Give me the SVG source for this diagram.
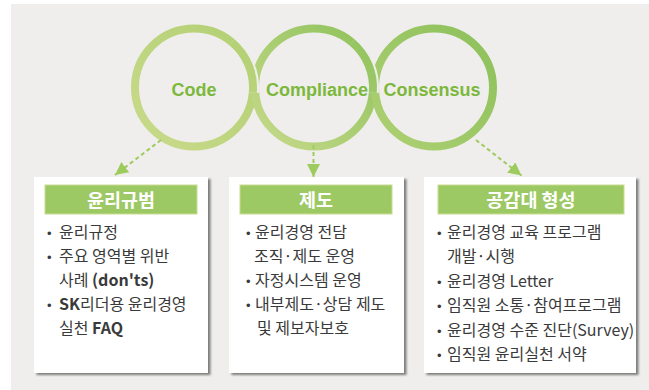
<svg xmlns="http://www.w3.org/2000/svg" width="649" height="390" viewBox="0 0 649 390">
<style>
.bg{fill:#efeeec}
.ring{fill:none;stroke-width:8}
.gap{fill:none;stroke:#efeeec;stroke-width:12}
.ctext{font-family:"Liberation Sans",Arial,sans-serif;font-weight:bold;font-size:18px;fill:#7cb83c;text-anchor:middle}
.box{fill:#ffffff;filter:url(#sh)}
.head{fill:#9dc965;stroke:#c9dc90;stroke-width:1}
.htext{font-family:"Noto Sans CJK KR","Noto Sans",sans-serif;font-weight:bold;font-size:18.5px;fill:#ffffff;text-anchor:middle}
.t{font-family:"Noto Sans CJK KR","Noto Sans",sans-serif;font-size:16px;fill:#3a3a3a}
.b{font-family:"Liberation Sans",Arial,sans-serif;font-size:13px;fill:#3a3a3a}
.bold{font-weight:bold}
.arrow{fill:none;stroke:#9dcb5e;stroke-width:2;stroke-dasharray:4 3}
</style>
<defs>
<linearGradient id="gCode" gradientUnits="userSpaceOnUse" x1="135" y1="145" x2="250" y2="30">
<stop offset="0" stop-color="#c9da8b"/><stop offset="1" stop-color="#b2d073"/>
</linearGradient>
<linearGradient id="gComp" gradientUnits="userSpaceOnUse" x1="258" y1="145" x2="372" y2="30">
<stop offset="0" stop-color="#c6d98a"/><stop offset="1" stop-color="#8ec25b"/>
</linearGradient>
<linearGradient id="gCons" gradientUnits="userSpaceOnUse" x1="378" y1="145" x2="495" y2="30">
<stop offset="0" stop-color="#add073"/><stop offset="1" stop-color="#8cc05a"/>
</linearGradient>
<marker id="ah" markerUnits="userSpaceOnUse" markerWidth="14" markerHeight="13" refX="13" refY="6.5" orient="auto">
<path d="M0,0 L13,6.5 L0,13 z" fill="#9dcb5e"/>
</marker>
<filter id="sh" x="-5%" y="-5%" width="115%" height="115%">
<feDropShadow dx="2.5" dy="2" stdDeviation="0.8" flood-color="#707070" flood-opacity="0.9"/>
</filter>
</defs>
<rect class="bg" x="11" y="4" width="638" height="386"/>

<g id="circle-code">
<circle class="ring" cx="194" cy="87.5" r="59" stroke="url(#gCode)"/>
</g>
<g id="circle-compliance">
<circle class="ring" cx="314" cy="87.5" r="59" stroke="url(#gComp)"/>
</g>
<g id="circle-consensus">
<circle class="ring" cx="434" cy="87.5" r="59" stroke="url(#gCons)"/>
</g>
<g id="interlock">
<path class="gap" d="M231.9,42.3 A59,59 0 0 1 252.8,92.6"/>
<path class="ring" stroke="url(#gCode)" d="M231.9,42.3 A59,59 0 0 1 252.8,92.6"/>
<path class="gap" d="M351.9,42.3 A59,59 0 0 1 372.8,92.6"/>
<path class="ring" stroke="url(#gComp)" d="M351.9,42.3 A59,59 0 0 1 372.8,92.6"/>
</g>
<g id="circle-labels">
<text class="ctext" x="194" y="96">Code</text>
<text class="ctext" x="317" y="96">Compliance</text>
<text class="ctext" x="432" y="96">Consensus</text>
</g>

<g id="connectors">
<path class="arrow" d="M161,140 L115,175" marker-end="url(#ah)"/>
<path class="arrow" d="M313.5,145 L313.5,177" marker-end="url(#ah)"/>
<path class="arrow" d="M476,140 L521.5,175.5" marker-end="url(#ah)"/>
</g>

<g id="box-code">
<rect class="box" x="34" y="177" width="174" height="196"/>
<rect class="head" x="45" y="185" width="152" height="29"/>
<text class="htext" x="121" y="206.5">윤리규범</text>
<text class="b" x="47" y="238">•</text><text class="t" x="59" y="238">윤리규정</text>
<text class="b" x="47" y="262">•</text><text class="t" x="59" y="262">주요 영역별 위반</text>
<text class="t" x="59" y="286">사례 <tspan class="bold">(don'ts)</tspan></text>
<text class="b" x="47" y="310">•</text><text class="t" x="59" y="310"><tspan class="bold">SK</tspan>리더용 윤리경영</text>
<text class="t" x="59" y="334">실천 <tspan class="bold">FAQ</tspan></text>
</g>

<g id="box-compliance">
<rect class="box" x="229" y="177" width="175" height="196"/>
<rect class="head" x="240" y="185" width="152" height="29"/>
<text class="htext" x="316" y="206.5">제도</text>
<text class="b" x="246" y="238">•</text><text class="t" x="255" y="238">윤리경영 전담</text>
<text class="t" x="254" y="262">조직·제도 운영</text>
<text class="b" x="246" y="286">•</text><text class="t" x="255" y="286">자정시스템 운영</text>
<text class="b" x="246" y="310">•</text><text class="t" x="255" y="310">내부제도·상담 제도</text>
<text class="t" x="257" y="334">및 제보자보호</text>
</g>

<g id="box-consensus">
<rect class="box" x="424" y="177" width="212" height="196"/>
<rect class="head" x="438" y="185" width="186" height="29"/>
<text class="htext" x="531" y="206.5">공감대 형성</text>
<text class="b" x="437" y="238">•</text><text class="t" x="447" y="238">윤리경영 교육 프로그램</text>
<text class="t" x="447" y="262">개발·시행</text>
<text class="b" x="437" y="287">•</text><text class="t" x="447" y="287">윤리경영 Letter</text>
<text class="b" x="437" y="311">•</text><text class="t" x="447" y="311">임직원 소통·참여프로그램</text>
<text class="b" x="437" y="335.5">•</text><text class="t" x="447" y="335.5">윤리경영 수준 진단(Survey)</text>
<text class="b" x="437" y="360">•</text><text class="t" x="447" y="360">임직원 윤리실천 서약</text>
</g>
</svg>
